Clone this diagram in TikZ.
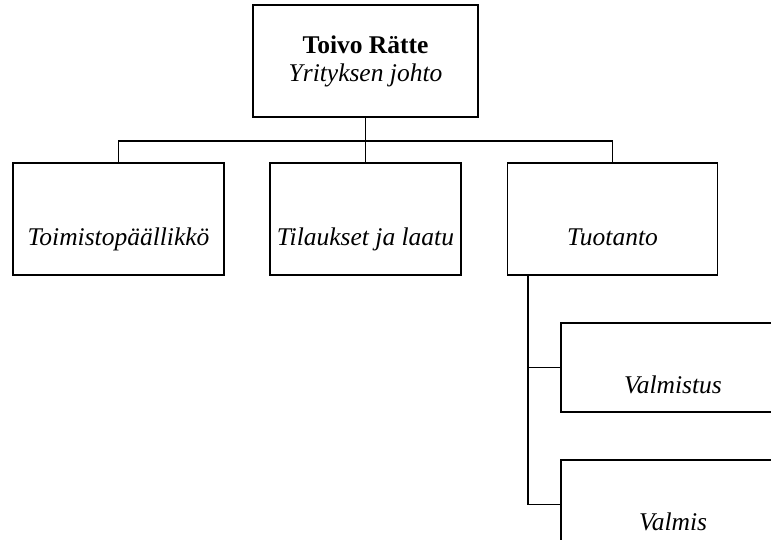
\documentclass[tikz,border=0pt]{standalone}
\usepackage{fontspec}
\setmainfont{Liberation Serif}
\usepackage{tikz}
\usetikzlibrary{calc,positioning}

\begin{document}
\begin{tikzpicture}[-,x=1pt,y=-1pt,line width=1.8pt,node distance=247pt,
        every node/.style={font=\fontsize{25.5}{28}\selectfont}]
        \tikzstyle{unit}=[draw=black,rectangle,inner sep=0pt,minimum width=211pt,minimum height=112pt,
                align=center,text height=70pt,text depth=16pt,font=\fontsize{25.5}{28}\selectfont\itshape]
        \clip (0,0) rectangle (771,540);
        \node[draw=black,rectangle,inner sep=0pt,minimum width=225pt,minimum height=112pt,align=center](toivo) at (365.5,61) {\textbf{Toivo Rätte}\\\textit{Yrityksen johto}};
        \node[unit](toimisto) at (118.5,219) {Toimistopäällikkö};
        \node[unit,minimum width=191.5pt](tilaukset)[right of=toimisto]{Tilaukset ja laatu};
        \node[unit,minimum width=210pt](tuotanto)[right of=tilaukset]{Tuotanto};
        \node[unit,minimum width=224pt,minimum height=89pt,text height=67pt](valmistus) at (673,367.5) {Valmistus};
        \node[unit,minimum width=224pt,minimum height=89pt,text height=67pt,node distance=137pt](valmis)[below of=valmistus]{Valmis};

        % johto -> osastot
        \coordinate (bus) at ($(toivo.south)+(0,23)$);
        \draw (toivo.south) -- (tilaukset.north);
        \draw (bus) -| (toimisto.north);
        \draw (bus) -| (tuotanto.north);

        % tuotanto -> alaosat
        \coordinate (tuo) at ([xshift=21pt]tuotanto.south west);
        \draw (tuo) |- (valmistus.west);
        \draw (tuo) |- (valmis.west);
      \end{tikzpicture}
\end{document}
